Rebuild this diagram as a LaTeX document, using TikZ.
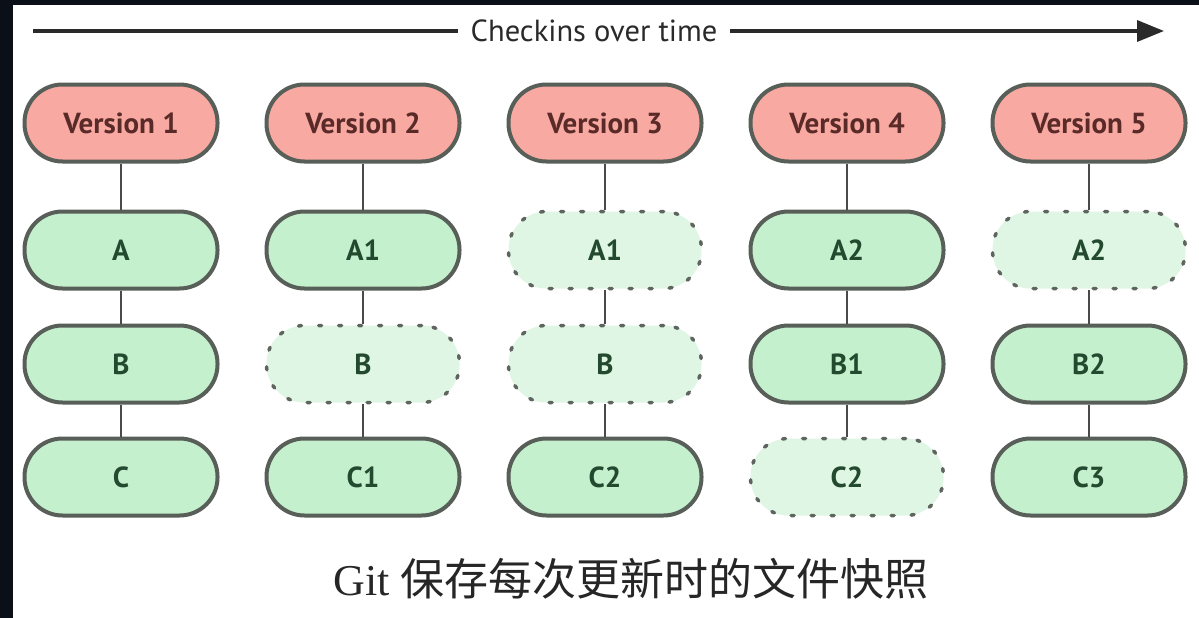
\documentclass[tikz,border=0pt]{standalone}
\usepackage{fontspec}
\setmainfont{Liberation Serif}
\newfontfamily\labelfont{PT Sans}
\newfontfamily\cjk{Noto Sans CJK SC}
\usetikzlibrary{arrows.meta}

\definecolor{framebg}{HTML}{0B1018}
\definecolor{edgegray}{HTML}{585E58}
\definecolor{dotgray}{HTML}{5E645E}
\definecolor{pinkfill}{HTML}{F8AAA2}
\definecolor{versiontext}{HTML}{5A2A28}
\definecolor{greenfill}{HTML}{C4F0CE}
\definecolor{ghostfill}{HTML}{E0F6E4}
\definecolor{greentext}{HTML}{234A2E}
\definecolor{linkgray}{HTML}{4A4A4A}
\definecolor{timeline}{HTML}{2A2A2A}

\tikzset{
  pill/.style={rectangle, rounded corners=38pt, minimum width=193pt,
    minimum height=77pt, line width=4pt, draw=edgegray,
    font=\labelfont\bfseries\fontsize{29}{34}\selectfont},
  version/.style={pill, fill=pinkfill, text=versiontext},
  blob/.style={pill, fill=greenfill, text=greentext},
  ghost/.style={pill, fill=ghostfill, text=greentext, draw=dotgray,
    line width=3.5pt, dash pattern=on 3pt off 17pt, line cap=round},
  link/.style={draw=linkgray, line width=2pt},
}

\begin{document}
\begin{tikzpicture}[x=1pt, y=-1pt]
  \useasboundingbox (0,0) rectangle (1199,618);
  % dark frame and white page
  \fill[framebg] (0,0) rectangle (1199,618);
  \fill[white] (13,5) rectangle (1199,618);

  % time axis
  \coordinate (tstart) at (33,31);
  \coordinate (tend) at (1164,31);
  \draw[timeline, line width=3.5pt, -{Triangle[length=27pt,width=21pt]}] (tstart) -- (tend);
  \node[fill=white, inner xsep=13pt, inner ysep=4pt, anchor=base, text=timeline,
        font=\labelfont\fontsize{30.5}{36}\selectfont] (axislabel) at (594,42) {Checkins over time};

  % version 1
  \node[version] (v1) at (121,123) {Version 1};
  \node[blob]    (a1) at (121,250) {A};
  \node[blob]    (b1) at (121,364) {B};
  \node[blob]    (c1) at (121,477) {C};
  % version 2
  \node[version] (v2) at (363,123) {Version 2};
  \node[blob]    (a2) at (363,250) {A1};
  \node[ghost]   (b2) at (363,364) {B};
  \node[blob]    (c2) at (363,477) {C1};
  % version 3
  \node[version] (v3) at (605,123) {Version 3};
  \node[ghost]   (a3) at (605,250) {A1};
  \node[ghost]   (b3) at (605,364) {B};
  \node[blob]    (c3) at (605,477) {C2};
  % version 4
  \node[version] (v4) at (847,123) {Version 4};
  \node[blob]    (a4) at (847,250) {A2};
  \node[blob]    (b4) at (847,364) {B1};
  \node[ghost]   (c4) at (847,477) {C2};
  % version 5
  \node[version] (v5) at (1089,123) {Version 5};
  \node[ghost]   (a5) at (1089,250) {A2};
  \node[blob]    (b5) at (1089,364) {B2};
  \node[blob]    (c5) at (1089,477) {C3};

  % links inside each snapshot
  \foreach \i in {1,...,5}{
    \draw[link] (v\i.south) -- (a\i.north);
    \draw[link] (a\i.south) -- (b\i.north);
    \draw[link] (b\i.south) -- (c\i.north);
  }

  % caption
  \node[anchor=base, text=black!85, inner sep=0pt,
        font=\fontsize{44}{50}\selectfont] (caption) at (631,595)
        {Git {\cjk 保存每次更新时的文件快照}};
\end{tikzpicture}
\end{document}
